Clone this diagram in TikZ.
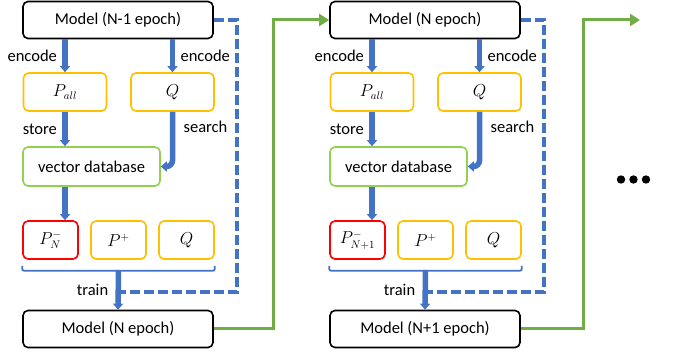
\documentclass[tikz,border=0pt]{standalone}
\usepackage{fontspec}
\setmainfont{Carlito}
\definecolor{mBlue}{HTML}{4472C4}
\definecolor{mGold}{HTML}{FFC000}
\definecolor{mGreen}{HTML}{70AD47}
\definecolor{mLime}{HTML}{92D050}
\definecolor{mRed}{HTML}{FF0000}
\usetikzlibrary{arrows.meta}

\begin{document}
\begin{tikzpicture}[x=1pt, y=-1pt,
  model/.style={draw=black, line width=1.6pt, rounded corners=5pt, fill=white,
                minimum width=190pt, minimum height=37pt,
                font=\fontsize{16.5}{18}\selectfont},
  emb/.style={draw=mGold, line width=1.6pt, rounded corners=5pt,
              minimum width=83pt, minimum height=38pt,
              font=\fontsize{16}{18}\selectfont},
  sel/.style={draw=mGold, line width=1.6pt, rounded corners=5pt,
              minimum width=55pt, minimum height=38pt,
              font=\fontsize{16}{18}\selectfont},
  hard/.style={sel, draw=mRed},
  vdb/.style={draw=mLime, line width=1.6pt, rounded corners=5pt,
              minimum width=137pt, minimum height=39pt,
              font=\fontsize{16.5}{18}\selectfont},
  lbl/.style={text=black, font=\fontsize{16.5}{18}\selectfont},
  flow/.style={-{Triangle[width=10pt, length=6pt]}, mBlue, line width=5.5pt},
  back/.style={mBlue, line width=3.2pt, dash pattern=on 10pt off 4pt},
  next/.style={-{Triangle[width=12pt, length=10pt]}, mGreen, line width=3pt},
  bracket/.style={mBlue, line width=1.8pt, rounded corners=2pt}]
  \useasboundingbox (0,0) rectangle (678,358);

  % epoch N-1 -> N
  \node[model] (topA) at (118,20)  {Model (N-1 epoch)};
  \node[emb]   (pallA) at (65,92)  {$P_{all}$};
  \node[emb]   (qA) at (172.5,92)  {$Q$};
  \node[vdb]   (dbA) at (91.5,166.5) {vector database};
  \node[hard]  (negA) at (50.5,240) {$P^-_N$};
  \node[sel]   (posA) at (118.5,240) {$P^+$};
  \node[sel]   (qqA) at (186.5,240) {$Q$};
  \node[model] (botA) at (118,329) {Model (N epoch)};
  \coordinate (brA) at (118.5,270);
  \coordinate (dashA) at (237,292);
  \coordinate (turnA) at (273,20);

  \draw[flow] (topA.south -| pallA) -- (pallA.north)
    node[lbl, midway, left=2pt] {encode};
  \draw[flow] (topA.south -| qA) -- (qA.north)
    node[lbl, midway, right=2pt] {encode};
  \draw[flow] (pallA.south) -- (pallA.south |- dbA.north)
    node[lbl, midway, left=2pt] {store};
  \draw[flow, rounded corners=6pt] (qA.south) |- (dbA.east)
    node[lbl, pos=0.14, right=5pt] {search};
  \draw[flow] (pallA.south |- dbA.south) -- (pallA.south |- negA.north);
  \draw[bracket] ([yshift=-6pt]negA.south west) -- ++(0,5) -| ([yshift=-6pt]qqA.south east);
  \draw[back] (topA.east) -| (dashA) -- ([xshift=2pt]dashA -| brA);
  \draw[flow] (brA) -- (botA.north)
    node[lbl, pos=0.5, left=4pt] {train};

  % epoch N -> N+1
  \node[model] (topB) at (425,20)  {Model (N epoch)};
  \node[emb]   (pallB) at (372,92)  {$P_{all}$};
  \node[emb]   (qB) at (479.5,92)  {$Q$};
  \node[vdb]   (dbB) at (398.5,166.5) {vector database};
  \node[hard]  (negB) at (357.5,240) {$P^-_{N+1}$};
  \node[sel]   (posB) at (425.5,240) {$P^+$};
  \node[sel]   (qqB) at (493.5,240) {$Q$};
  \node[model] (botB) at (425,329) {Model (N+1 epoch)};
  \coordinate (brB) at (425.5,270);
  \coordinate (dashB) at (544,292);
  \coordinate (turnB) at (583,20);
  \coordinate (endB) at (640,20);

  \draw[next] (botA.east) -| (turnA) -- (topB.west);

  \draw[flow] (topB.south -| pallB) -- (pallB.north)
    node[lbl, midway, left=2pt] {encode};
  \draw[flow] (topB.south -| qB) -- (qB.north)
    node[lbl, midway, right=2pt] {encode};
  \draw[flow] (pallB.south) -- (pallB.south |- dbB.north)
    node[lbl, midway, left=2pt] {store};
  \draw[flow, rounded corners=6pt] (qB.south) |- (dbB.east)
    node[lbl, pos=0.14, right=5pt] {search};
  \draw[flow] (pallB.south |- dbB.south) -- (pallB.south |- negB.north);
  \draw[bracket] ([yshift=-6pt]negB.south west) -- ++(0,5) -| ([yshift=-6pt]qqB.south east);
  \draw[back] (topB.east) -| (dashB) -- ([xshift=2pt]dashB -| brB);
  \draw[flow] (brB) -- (botB.north)
    node[lbl, pos=0.5, left=4pt] {train};
  \draw[next] (botB.east) -| (turnB) -- (endB);

  % more epochs
  \foreach \x in {621,633.5,646}
    \fill (\x,179.5) circle (4.2pt);
\end{tikzpicture}
\end{document}
